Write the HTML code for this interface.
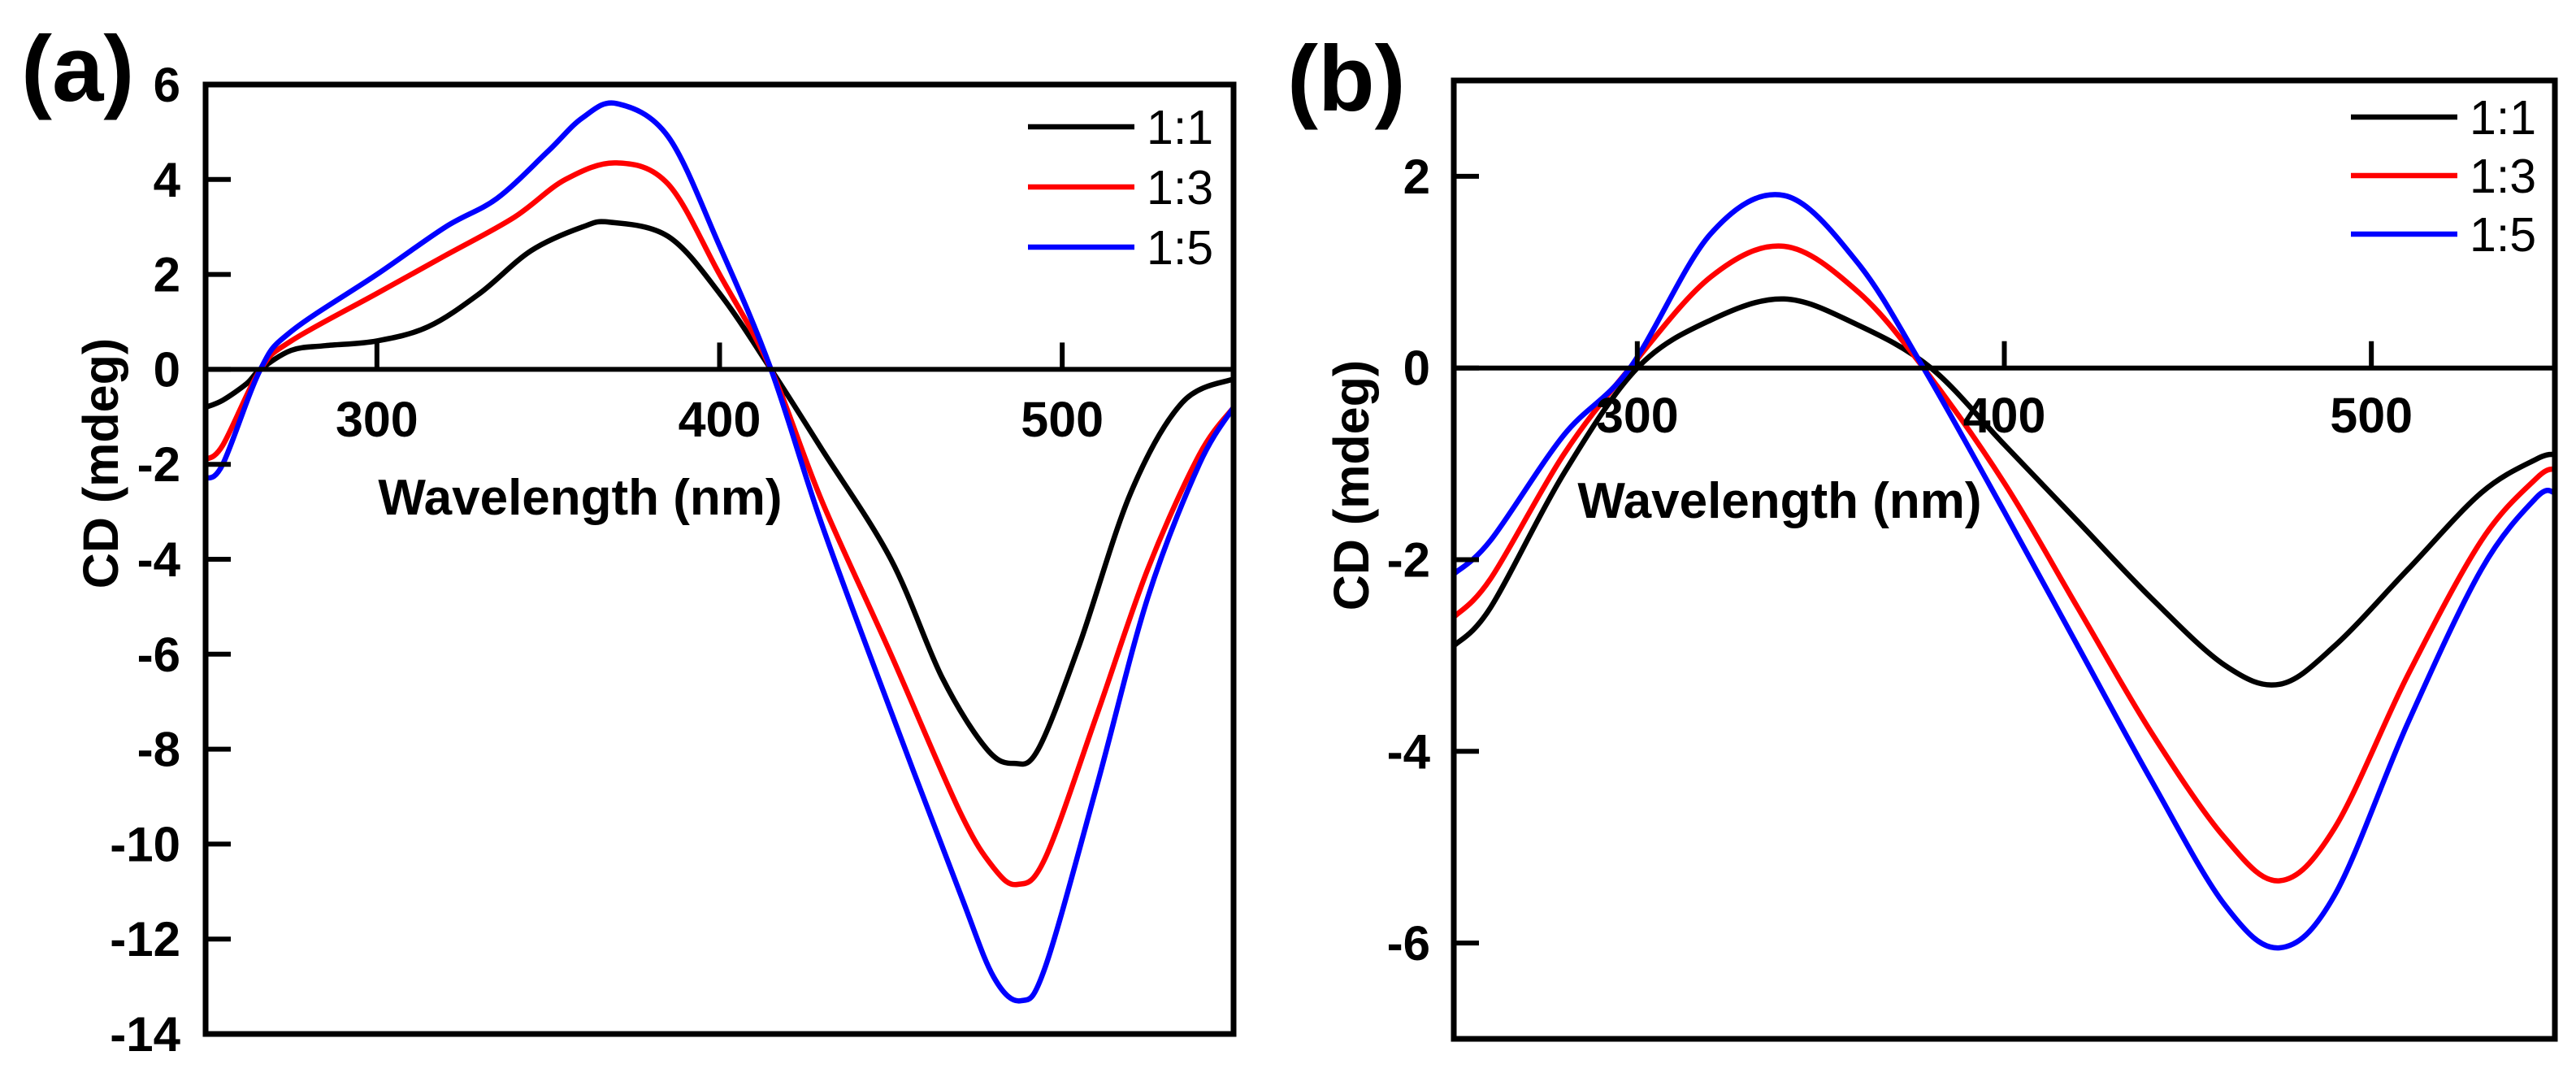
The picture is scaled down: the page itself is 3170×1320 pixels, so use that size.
<!DOCTYPE html>
<html><head><meta charset="utf-8"><style>
body{margin:0;background:#fff;}
svg{display:block;font-family:"Liberation Sans",Arial,sans-serif;}
</style></head><body>
<svg id="fig" width="3170" height="1320" viewBox="0 0 3170 1320"></svg>
<script>
const wlA=[250,255,262,266,275,285,300,315,330,345,360,368,385,400,415,430,450,465,478,486,493,505,520,535,550];
const a11=[-0.8,-0.65,-0.3,0,0.4,0.5,0.6,0.9,1.6,2.5,3.0,3.1,2.8,1.6,0,-1.7,-4.0,-6.5,-8.0,-8.3,-8.0,-5.8,-2.6,-0.7,-0.2];
const wlA2=[250,255,266,275,300,320,340,355,370,385,400,415,430,450,470,480,487,495,510,525,540,550];
const a13=[-1.9,-1.6,0,0.6,1.6,2.4,3.2,4.0,4.35,3.9,2.0,0,-2.8,-6.0,-9.3,-10.5,-10.85,-10.3,-7.3,-4.2,-1.8,-0.8];
const wlA3=[250,255,266,275,300,320,335,350,360,370,385,400,415,430,450,470,480,488,495,510,525,540,550];
const a15=[-2.3,-2.0,0,0.8,2.0,3.0,3.6,4.6,5.3,5.6,4.9,2.6,0,-3.3,-7.2,-11.0,-12.8,-13.3,-12.6,-8.8,-4.8,-2.0,-0.8];
const wlB=[250,260,280,300,320,340,360,380,400,420,440,460,475,490,510,530,545,550];
const b11=[-2.9,-2.5,-1.1,0,0.5,0.72,0.45,0,-0.8,-1.6,-2.4,-3.1,-3.3,-2.9,-2.1,-1.3,-0.95,-0.9];
const wlB2=[250,260,280,298,320,340,360,378,400,420,440,460,475,490,510,530,545,550];
const b13=[-2.6,-2.2,-0.9,0,0.95,1.27,0.8,0,-1.2,-2.5,-3.8,-4.9,-5.35,-4.8,-3.2,-1.8,-1.15,-1.05];
const b15=[-2.15,-1.8,-0.7,0,1.4,1.8,1.1,0,-1.5,-2.9,-4.3,-5.6,-6.05,-5.5,-3.7,-2.1,-1.35,-1.3];
const xTicks=[300,400,500];
const yTicksA=[6,4,2,0,-2,-4,-6,-8,-10,-12,-14];
const yTicksB=[2,0,-2,-4,-6];
const legendLabels=["1:1","1:3","1:5"];
const colors=["#000","#ff0000","#0000ff"];

const NS="http://www.w3.org/2000/svg";
const svg=document.getElementById('fig');
function mk(tag,attrs,parent){const e=document.createElementNS(NS,tag);for(const k in attrs)e.setAttribute(k,attrs[k]);(parent||svg).appendChild(e);return e;}
function smooth(pts){let d="M"+pts[0][0].toFixed(1)+","+pts[0][1].toFixed(1);
 for(let i=0;i<pts.length-1;i++){const p0=pts[Math.max(0,i-1)],p1=pts[i],p2=pts[i+1],p3=pts[Math.min(pts.length-1,i+2)];
  const c1=[p1[0]+(p2[0]-p0[0])/6,p1[1]+(p2[1]-p0[1])/6],c2=[p2[0]-(p3[0]-p1[0])/6,p2[1]-(p3[1]-p1[1])/6];
  d+=" C"+c1[0].toFixed(1)+","+c1[1].toFixed(1)+" "+c2[0].toFixed(1)+","+c2[1].toFixed(1)+" "+p2[0].toFixed(1)+","+p2[1].toFixed(1);}
 return d;}

function panel(cfg){
 const g=mk('g',{});
 
 
 const X=v=>cfg.x0+(v-250)/300*(cfg.x1-cfg.x0);
 const Y=v=>cfg.y0+(cfg.ymax-v)/(cfg.ymax-cfg.ymin)*(cfg.y1-cfg.y0);
 cfg.series.forEach((s,i)=>{
  const p=mk('path',{d:smooth(s.x.map((w,j)=>[X(w),Y(s.y[j])])),fill:'none',stroke:colors[i],'stroke-width':6.5,'stroke-linejoin':'round'},g);
  
  
 });
 const z=mk('line',{x1:cfg.x0,x2:cfg.x1,y1:Y(0),y2:Y(0),stroke:'#000','stroke-width':6},g);
 
 
 const f=mk('rect',{x:cfg.x0,y:cfg.y0,width:cfg.x1-cfg.x0,height:cfg.y1-cfg.y0,fill:'none',stroke:'#000','stroke-width':7},g);
 
 
 xTicks.forEach(t=>{
  const l=mk('line',{x1:X(t),x2:X(t),y1:Y(0),y2:Y(0)-33,stroke:'#000','stroke-width':6},g);
  
  
  const tx=mk('text',{x:X(t),y:cfg.xLabelY,'text-anchor':'middle','font-size':61,'font-weight':'bold'},g);
  tx.textContent=t;
  
  
 });
 cfg.yTicks.forEach(t=>{
  const l=mk('line',{x1:cfg.x0,x2:cfg.x0+31,y1:Y(t),y2:Y(t),stroke:'#000','stroke-width':6},g);
  
  
  const tx=mk('text',{x:cfg.yLabelX,y:Y(t)+21,'text-anchor':'end','font-size':60,'font-weight':'bold'},g);
  tx.textContent=t;
  
  
 });
 const xt=mk('text',{x:cfg.xTitleX,y:cfg.xTitleY,'text-anchor':'middle','font-size':62,'font-weight':'bold'},g);
 xt.textContent='Wavelength (nm)';
 
 
 const yt=mk('text',{x:0,y:0,'text-anchor':'middle','font-size':61,'font-weight':'bold',transform:`translate(${cfg.yTitleX},${cfg.yTitleY}) rotate(-90)`},g);
 yt.textContent='CD (mdeg)';
 
 
 legendLabels.forEach((lab,i)=>{
  const y=cfg.legY+i*cfg.legDy;
  const l=mk('line',{x1:cfg.legX,x2:cfg.legX+131,y1:y,y2:y,stroke:colors[i],'stroke-width':6.5},g);
  
  
  const t=mk('text',{x:cfg.legX+146,y:y+21,'font-size':59},g);
  t.textContent=lab;
  
  
 });
 const pl=mk('text',{x:cfg.labX,y:cfg.labY,'font-size':114,'font-weight':'bold'},g);
 pl.textContent=cfg.label;
 
 
}

panel({name:'panel-a',label:'(a)',x0:253,x1:1518,y0:104,y1:1272,ymax:6,ymin:-14,yTicks:yTicksA,
 xLabelY:537,yLabelX:222,xTitleX:714,xTitleY:633,yTitleX:145,yTitleY:570,legX:1265,legY:156,legDy:74,labX:26,labY:124,
 series:[{x:wlA,y:a11},{x:wlA2,y:a13},{x:wlA3,y:a15}]});
panel({name:'panel-b',label:'(b)',x0:1789,x1:3144,y0:99,y1:1278,ymax:3,ymin:-7,yTicks:yTicksB,
 xLabelY:532,yLabelX:1760,xTitleX:2190,xTitleY:637,yTitleX:1684,yTitleY:597,legX:2893,legY:144,legDy:72,labX:1584,labY:136,
 series:[{x:wlB,y:b11},{x:wlB2,y:b13},{x:wlB2,y:b15}]});
</script>
</body></html>
